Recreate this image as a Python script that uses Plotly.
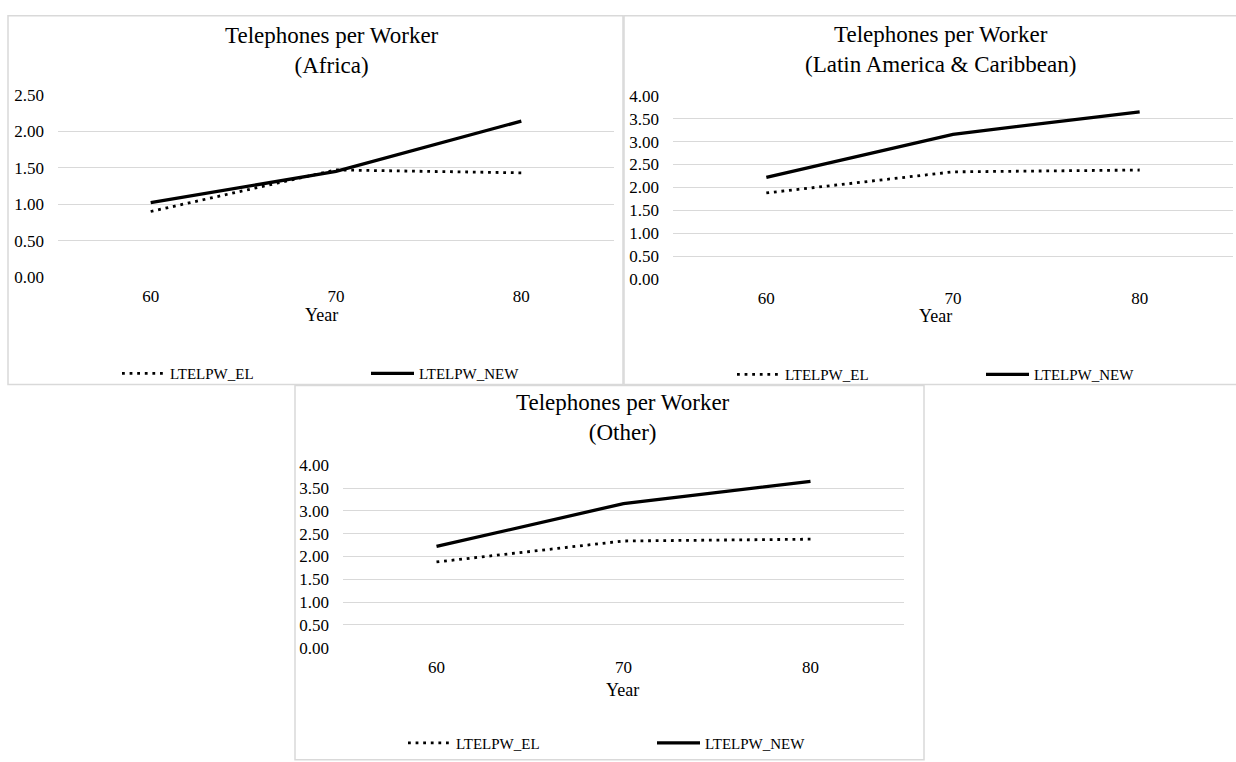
import plotly.graph_objects as go

# ---------------- data ----------------
years = ["60", "70", "80"]
africa_el = [0.90, 1.47, 1.43]
africa_new = [1.02, 1.45, 2.14]
latam_el = [1.88, 2.34, 2.38]
latam_new = [2.22, 3.16, 3.65]
other_el = [1.88, 2.34, 2.38]
other_new = [2.22, 3.16, 3.65]
africa_yticks = [0.0, 0.5, 1.0, 1.5, 2.0, 2.5]
other_yticks = [0.0, 0.5, 1.0, 1.5, 2.0, 2.5, 3.0, 3.5, 4.0]
series_names = ["LTELPW_EL", "LTELPW_NEW"]
panel_titles = ["Telephones per Worker<br>(Africa)",
                "Telephones per Worker<br>(Latin America &amp; Caribbean)",
                "Telephones per Worker<br>(Other)"]

W, H = 1236, 762
FONT = "Liberation Serif, Times New Roman, serif"
GRID = "#d9d9d9"


def px(x):
    return x / W


def py(y):
    return 1 - y / H


# panel plot areas in pixels: (left, right, top, bottom)
areas = [(58, 614, 88, 275), (673, 1233, 89, 277), (343, 904, 468, 655)]
panels = [(africa_el, africa_new, africa_yticks),
          (latam_el, latam_new, other_yticks),
          (other_el, other_new, other_yticks)]

fig = go.Figure()
legend_names = ["legend", "legend2", "legend3"]

for i, ((el, new, yt), (l, r, t, b)) in enumerate(zip(panels, areas)):
    sfx = "" if i == 0 else str(i + 1)
    fig.add_trace(go.Scatter(
        x=years, y=el, mode="lines", name=series_names[0],
        line=dict(color="black", width=2.8, dash="2.8px,4.8px"),
        xaxis="x" + sfx, yaxis="y" + sfx, legend=legend_names[i]))
    fig.add_trace(go.Scatter(
        x=years, y=new, mode="lines", name=series_names[1],
        line=dict(color="black", width=3.3),
        xaxis="x" + sfx, yaxis="y" + sfx, legend=legend_names[i]))
    fig.update_layout(**{
        "xaxis" + sfx: dict(
            domain=[px(l), px(r)], anchor="y" + sfx, type="category",
            categoryorder="array", categoryarray=years, range=[-0.5, 2.5],
            showgrid=False, zeroline=False, showline=False, ticks="",
            tickfont=dict(family=FONT, size=17, color="black"),
            ticklabelstandoff=7, fixedrange=True),
        "yaxis" + sfx: dict(
            domain=[py(b), py(t)], anchor="x" + sfx,
            range=[yt[0], yt[-1]], tickvals=yt,
            ticktext=[f"{v:.2f}" for v in yt],
            showgrid=True, gridcolor=GRID, gridwidth=1.3,
            zeroline=False, showline=False, ticks="",
            tickfont=dict(family=FONT, size=17, color="black"),
            ticklabelstandoff=13, fixedrange=True),
    })

# panel titles, axis titles
title_pos = [(332, 42.5), (940, 42), (623, 419)]
year_pos = [(321, 314), (935, 315), (622, 698)]
annotations = []
for (tx, ty), txt in zip(title_pos, panel_titles):
    annotations.append(dict(x=px(tx), y=py(ty), xref="paper", yref="paper",
                            text=txt, showarrow=False, xanchor="center", yanchor="middle",
                            font=dict(family=FONT, size=23, color="black")))
for (tx, ty) in year_pos:
    annotations.append(dict(x=px(tx), y=py(ty), xref="paper", yref="paper",
                            text="Year", showarrow=False, xanchor="center", yanchor="middle",
                            font=dict(family=FONT, size=18, color="black")))

# legends
legend_pos = [(117, 374), (732, 375), (403, 753)]
leg_layout = {}
for name, (lx, ly) in zip(legend_names, legend_pos):
    leg_layout[name] = dict(
        x=px(lx), y=py(ly), xanchor="left", yanchor="middle",
        orientation="h", itemwidth=43, entrywidth=191, entrywidthmode="pixels",
        font=dict(family=FONT, size=15, color="black"),
        bgcolor="rgba(0,0,0,0)", borderwidth=0, itemclick=False)

# panel borders
shapes = []
for (x0, y0, x1, y1) in [(8, 7, 623, 385), (624, 7, 1240, 385), (295, 386, 924, 770)]:
    shapes.append(dict(type="rect", xref="paper", yref="paper",
                       x0=px(x0), x1=px(x1), y0=py(y1), y1=py(y0),
                       line=dict(color=GRID, width=1.5), layer="below"))

fig.update_layout(
    width=W, height=H, margin=dict(l=0, r=0, t=0, b=0),
    paper_bgcolor="white", plot_bgcolor="rgba(0,0,0,0)",
    showlegend=True, annotations=annotations, shapes=shapes,
    font=dict(family=FONT, color="black"),
    **leg_layout)

fig.write_html("out.html", config={"displayModeBar": False},
               post_script="document.body.style.margin='0';")
